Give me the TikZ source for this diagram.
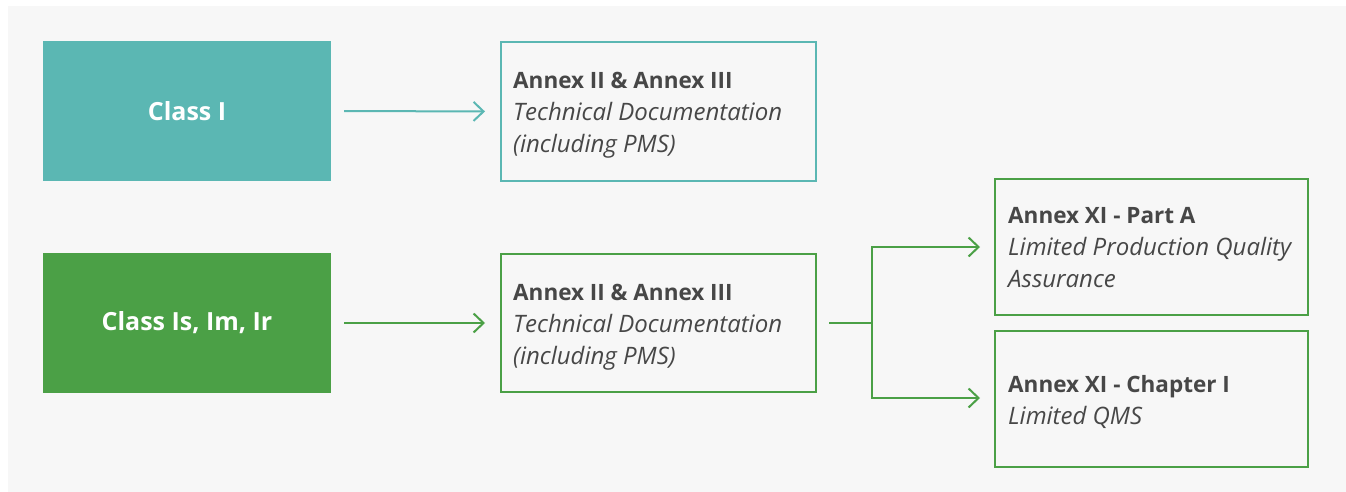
\documentclass[tikz,border=0pt]{standalone}
\usepackage{fontspec}
\setmainfont{Open Sans}
\usetikzlibrary{arrows.meta}
\definecolor{teal}{HTML}{5BB7B3}
\definecolor{grn}{HTML}{4BA046}
\definecolor{txt}{HTML}{474747}
\definecolor{bg}{HTML}{F7F7F7}
\newcommand{\myhd}[1]{{\fontsize{22.5}{32}\selectfont\bfseries #1}}
\newcommand{\myit}[1]{{\fontsize{24}{32}\selectfont\itshape #1}}
\begin{document}
\begin{tikzpicture}[x=1pt,y=-1pt,
  classbox/.style={rectangle, minimum width=288pt, minimum height=140pt, inner sep=0pt,
    text=white, font=\fontsize{25}{30}\selectfont\bfseries},
  annexbox/.style={rectangle, draw=#1, line width=2pt, minimum width=315pt, minimum height=138pt, inner sep=0pt},
  annextext/.style={anchor=west, inner sep=0pt, align=left, text=txt, font=\fontsize{22}{32}\selectfont},
  conn/.style={draw=#1, line width=2pt, -{Straight Barb[length=10pt,width=19pt,line width=2pt]}},
  plain/.style={draw=#1, line width=2pt}]
\fill[white] (0,0) rectangle (1346,492);
\fill[bg] (8,6) rectangle (1346,492);
\useasboundingbox (0,0) rectangle (1346,492);
\node[classbox, fill=teal] (c1) at (187,111) {Class I};
\node[classbox, fill=grn] (c2) at (187,323) {Class Is, Im, Ir};
\node[annexbox=teal] (a1) at (658.5,111.5) {};
\node[annexbox=grn] (a2) at (658.5,323) {};
\node[annexbox=grn, minimum width=313pt, minimum height=136pt] (b3) at (1151.5,247) {};
\node[annexbox=grn, minimum width=313pt, minimum height=136pt] (b4) at (1151.5,399) {};
\node[annextext] (t1) at ([xshift=13pt,yshift=-4pt]a1.west) {\myhd{Annex II \& Annex III}\\\myit{Technical Documentation}\\\myit{(including PMS)}};
\node[annextext] (t2) at ([xshift=13pt,yshift=-4pt]a2.west) {\myhd{Annex II \& Annex III}\\\myit{Technical Documentation}\\\myit{(including PMS)}};
\node[annextext] (t3) at ([xshift=14pt,yshift=-1pt]b3.west) {\myhd{Annex XI - Part A}\\\myit{Limited Production Quality}\\\myit{Assurance}};
\node[annextext] (t4) at ([xshift=14pt,yshift=-3pt]b4.west) {\myhd{Annex XI - Chapter I}\\\myit{Limited QMS}};
\draw[conn=teal, shorten <=13pt, shorten >=15pt] (c1.east) -- (a1.west);
\draw[conn=grn, shorten <=13pt, shorten >=15pt] (c2.east) -- (a2.west);
\coordinate (fork) at (872,323);
\draw[plain=grn, shorten <=12pt] (a2.east) -- (fork);
\draw[conn=grn, shorten >=14pt] ([yshift=-1pt]fork) |- (b3.west);
\draw[conn=grn, shorten >=14pt] ([yshift=1pt]fork) |- ([yshift=1pt]b4.west);
\end{tikzpicture}
\end{document}
